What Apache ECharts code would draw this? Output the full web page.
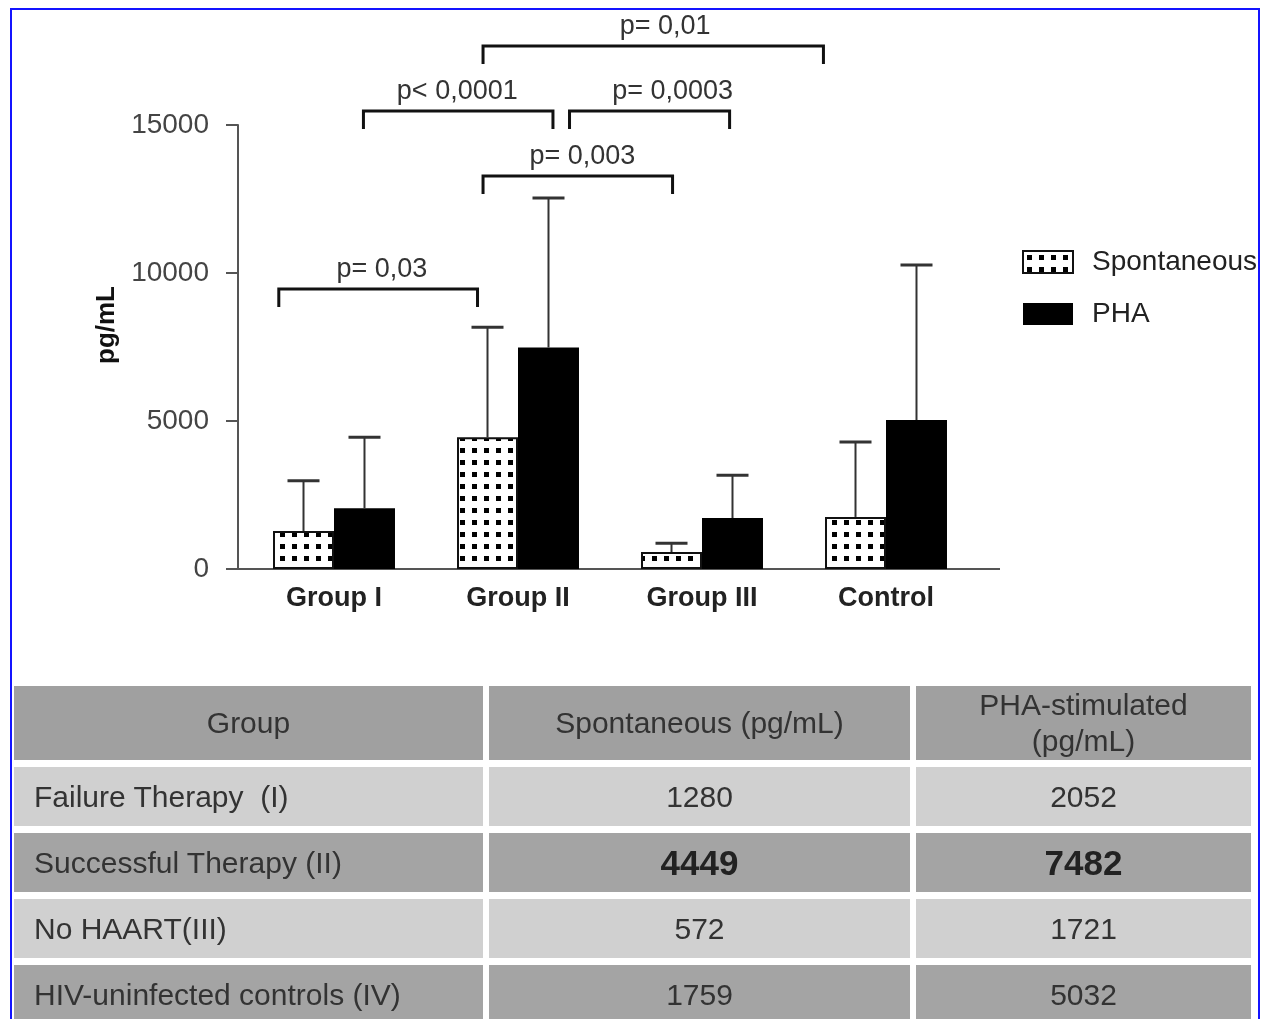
<!DOCTYPE html>
<html>
<head>
<meta charset="utf-8">
<script src="https://cdn.jsdelivr.net/npm/echarts@6/dist/echarts.min.js"></script>
<style>
  html, body { margin: 0; padding: 0; background: #fff; overflow: hidden; }
  body { width: 1265px; height: 1019px; position: relative; font-family: 'Liberation Sans', Arial, sans-serif; }
  #frame { position: absolute; left: 10px; top: 8px; width: 1246px; height: 1100px; border: 2px solid #1414ff; z-index: 5; pointer-events: none; }
  #chart { position: absolute; left: 0; top: 0; width: 1257px; height: 680px; }
  #tbl { position: absolute; left: 8px; top: 679px; border-collapse: separate; border-spacing: 6px 7px; table-layout: fixed; width: 1249px; }
  #tbl td { padding: 0; color: #333; font-size: 30px; height: 59px; vertical-align: middle; text-align: center; }
  #tbl tr.head td { height: 74px; background: #a0a0a0; line-height: 36px; }
  #tbl tr.light td { background: #d0d0d0; }
  #tbl tr.dark td { background: #a4a4a4; }
  #tbl td.name { text-align: left; padding-left: 20px; white-space: pre; }
  #tbl td.big { font-weight: bold; font-size: 35px; color: #222; }
</style>
</head>
<body>
<div id="frame"></div>
<div id="chart"></div>
<table id="tbl"></table>
<script>
// chart data
const categories = ['Group I', 'Group II', 'Group III', 'Control'];
const spontaneous = [1280, 4449, 572, 1759];
const pha = [2052, 7482, 1721, 5032];
const spontSD = [1700, 3720, 300, 2530];
const phaSD = [2400, 5050, 1450, 5240];
const yTicks = [0, 5000, 10000, 15000];

// significance brackets, x in category units, level in pg/mL
const brackets = [
  { from: -0.30, to: 0.78, level: 9460, text: 'p= 0,03', at: 0.26 },
  { from: 0.81, to: 1.84, level: 13280, text: 'p= 0,003', at: 1.35 },
  { from: 0.16, to: 1.19, level: 15470, text: 'p< 0,0001', at: 0.67 },
  { from: 1.28, to: 2.15, level: 15470, text: 'p= 0,0003', at: 1.84 },
  { from: 0.81, to: 2.66, level: 17670, text: 'p= 0,01', at: 1.80 }
];

// table
const tableHeader = ['Group', 'Spontaneous (pg/mL)', 'PHA-stimulated<br>(pg/mL)'];
const tableGroups = ['Failure Therapy  (I)', 'Successful Therapy (II)', 'No HAART(III)', 'HIV-uninfected controls (IV)'];
const boldRow = 1;

const FONT = "'Liberation Sans', Arial, sans-serif";
const GAP = 0.337;

// build the table
let html = '<colgroup><col style="width:469px"><col style="width:421px"><col style="width:335px"></colgroup>';
html += '<tr class="head">' + tableHeader.map(h => '<td>' + h + '</td>').join('') + '</tr>';
tableGroups.forEach((g, i) => {
  const cls = i % 2 === 0 ? 'light' : 'dark';
  const b = i === boldRow ? ' big' : '';
  html += '<tr class="' + cls + '"><td class="name">' + g + '</td><td class="' + b + '">' + spontaneous[i] +
    '</td><td class="' + b + '">' + pha[i] + '</td></tr>';
});
document.getElementById('tbl').innerHTML = html;

// dotted pattern for spontaneous bars
const pat = document.createElement('canvas');
pat.width = 12; pat.height = 12;
const pctx = pat.getContext('2d');
pctx.fillStyle = '#fff';
pctx.fillRect(0, 0, 12, 12);
pctx.fillStyle = '#000';
pctx.fillRect(4, 4, 5, 5);

function errorBars(values, sd, side) {
  return {
    type: 'custom',
    name: 'err' + side,
    z: 3,
    data: values.map((v, i) => [i, v, v + sd[i]]),
    renderItem: function (params, api) {
      const p0 = api.coord([api.value(0), api.value(1)]);
      const p1 = api.coord([api.value(0), api.value(2)]);
      const band = api.size([1, 0])[0];
      const bw = band * (1 - GAP) / 2;
      const cx = p0[0] + side * bw / 2;
      return {
        type: 'group',
        children: [
          { type: 'line', shape: { x1: cx, y1: p0[1], x2: cx, y2: p1[1] }, style: { stroke: '#333', lineWidth: 2 } },
          { type: 'line', shape: { x1: cx - 16, y1: p1[1], x2: cx + 16, y2: p1[1] }, style: { stroke: '#333', lineWidth: 3 } }
        ]
      };
    }
  };
}

const chart = echarts.init(document.getElementById('chart'));
chart.setOption({
  animation: false,
  grid: { left: 242, top: 125, width: 736, height: 444 },
  legend: {
    data: ['Spontaneous', 'PHA'],
    orient: 'vertical',
    left: 1017,
    top: 243,
    icon: 'rect',
    itemWidth: 50,
    itemHeight: 22,
    itemGap: 24,
    textStyle: { fontFamily: FONT, fontSize: 28, color: '#222', padding: [0, 0, 0, 14] }
  },
  xAxis: {
    type: 'category',
    data: categories,
    axisLine: { lineStyle: { color: '#555', width: 2 } },
    axisTick: { show: false },
    axisLabel: { margin: 16, fontFamily: FONT, fontSize: 27, fontWeight: 'bold', color: '#222' }
  },
  yAxis: {
    type: 'value',
    min: yTicks[0],
    max: yTicks[yTicks.length - 1],
    interval: 5000,
    offset: 4,
    name: 'pg/mL',
    nameLocation: 'middle',
    nameGap: 118,
    nameTextStyle: { fontFamily: FONT, fontSize: 26, fontWeight: 'bold', color: '#111', padding: [0, 0, 0, 44] },
    splitLine: { show: false },
    axisLine: { show: true, lineStyle: { color: '#555', width: 2 } },
    axisTick: { show: true, length: 12, lineStyle: { color: '#555', width: 2 } },
    axisLabel: { margin: 29, fontFamily: FONT, fontSize: 28, color: '#444', formatter: v => String(v) }
  },
  series: [
    {
      name: 'Spontaneous',
      type: 'bar',
      data: spontaneous,
      barGap: '0%',
      barCategoryGap: (GAP * 100) + '%',
      itemStyle: { color: { image: pat, repeat: 'repeat' }, borderColor: '#111', borderWidth: 2 }
    },
    {
      name: 'PHA',
      type: 'bar',
      data: pha,
      barGap: '0%',
      barCategoryGap: (GAP * 100) + '%',
      itemStyle: { color: '#000' }
    },
    errorBars(spontaneous, spontSD, -1),
    errorBars(pha, phaSD, 1),
    {
      type: 'custom',
      name: 'brackets',
      z: 4,
      data: brackets.map(b => [0, b.level]),
      renderItem: function (params, api) {
        const b = brackets[params.dataIndex];
        const p = api.coord([0, b.level]);
        const band = api.size([1, 0])[0];
        const x1 = p[0] + b.from * band;
        const x2 = p[0] + b.to * band;
        const xt = p[0] + b.at * band;
        const y = p[1];
        return {
          type: 'group',
          children: [
            { type: 'polyline', shape: { points: [[x1, y + 18], [x1, y], [x2, y], [x2, y + 18]] },
              style: { stroke: '#111', lineWidth: 3, fill: null } },
            { type: 'text', style: { text: b.text, x: xt, y: y - 6, align: 'center', verticalAlign: 'bottom',
              font: '27px ' + FONT, fill: '#333' } }
          ]
        };
      }
    }
  ]
});

// extend the baseline to the left and right as in the original
const y0 = chart.convertToPixel({ yAxisIndex: 0 }, 0);
chart.setOption({
  graphic: [{ type: 'line', z: 1, shape: { x1: 236, y1: y0, x2: 1000, y2: y0 }, style: { stroke: '#555', lineWidth: 2 } }]
});
</script>
</body>
</html>
